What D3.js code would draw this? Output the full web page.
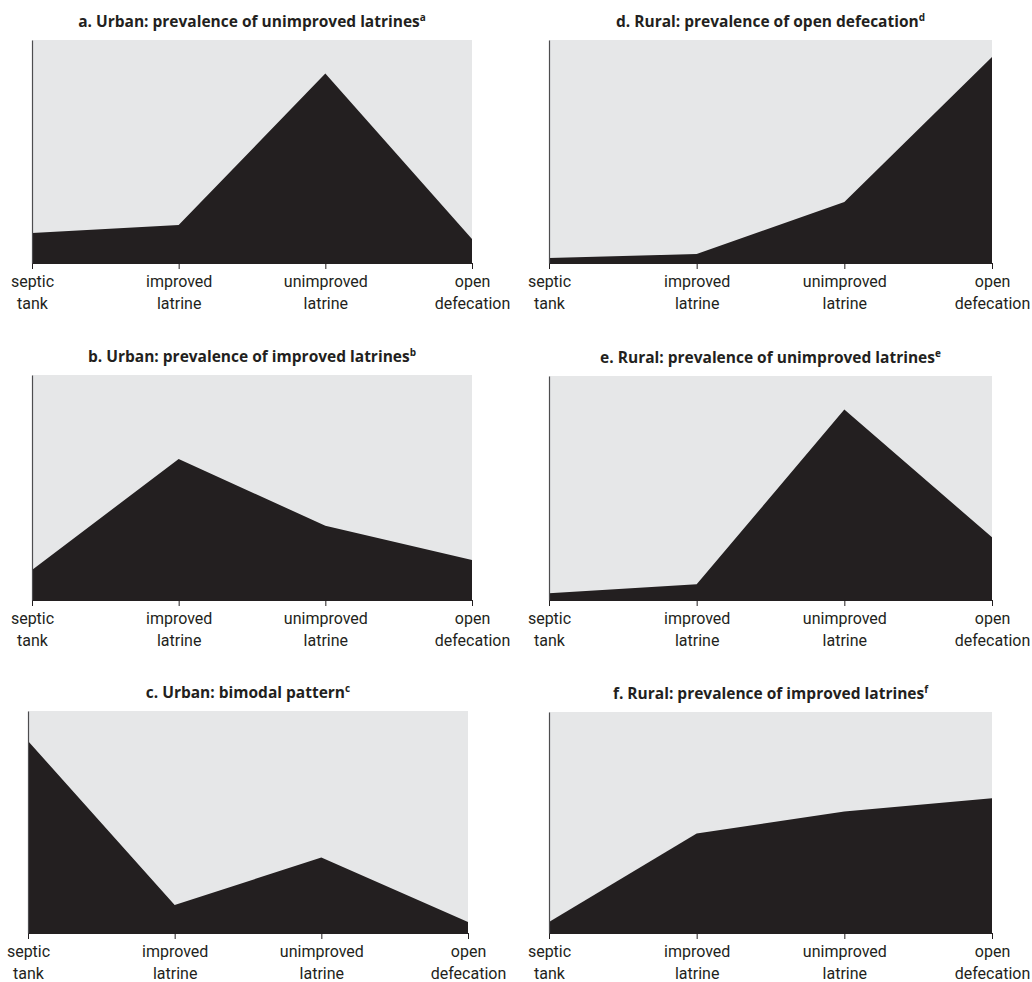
<!DOCTYPE html>
<html>
<head>
<meta charset="utf-8">
<script src="https://cdn.jsdelivr.net/npm/d3@7"></script>
<style>
  html, body { margin: 0; padding: 0; background: #ffffff; }
  svg { display: block; }
</style>
</head>
<body>
<svg id="chart" width="1032" height="982"></svg>
<script>
// ---- data ----
const categories = ["septic tank", "improved latrine", "unimproved latrine", "open defecation"];
const panelLetters = ["a", "b", "c", "d", "e", "f"];
const panelTitles = [
  "Urban: prevalence of unimproved latrines",
  "Urban: prevalence of improved latrines",
  "Urban: bimodal pattern",
  "Rural: prevalence of open defecation",
  "Rural: prevalence of unimproved latrines",
  "Rural: prevalence of improved latrines"
];
const footnoteMarks = ["a", "b", "c", "d", "e", "f"];
const urbanUnimproved = [13.5, 17, 85, 10.8];
const urbanImproved   = [13.3, 62.7, 33, 17.8];
const urbanBimodal    = [86.5, 12.6, 34, 5];
const ruralOpen       = [2.2, 4, 27.4, 92.4];
const ruralUnimproved = [3, 7, 85, 28];
const ruralImproved   = [5, 45, 55, 61];
const seriesList = [urbanUnimproved, urbanImproved, urbanBimodal, ruralOpen, ruralUnimproved, ruralImproved];

// ---- layout ----
const layout = [
  { left: 32,  right: 472, top: 40,  base: 263 },
  { left: 32,  right: 472, top: 375, base: 600 },
  { left: 28,  right: 468, top: 711, base: 933 },
  { left: 549, right: 992, top: 40,  base: 263 },
  { left: 549, right: 992, top: 376, base: 600 },
  { left: 549, right: 992, top: 712, base: 933 }
];

const svg = d3.select("#chart");
const FONT = "Roboto, 'Open Sans', sans-serif";
const TITLE_FONT = "'Open Sans', Roboto, sans-serif";

seriesList.forEach((vals, i) => {
  const L = layout[i];
  const g = svg.append("g");
  const x = d3.scalePoint().domain(categories).range([L.left, L.right]);
  const y = d3.scaleLinear().domain([0, 100]).range([L.base, L.top]);

  // background
  g.append("rect")
    .attr("x", L.left).attr("y", L.top)
    .attr("width", L.right - L.left).attr("height", L.base - L.top)
    .attr("fill", "#e6e7e8");

  // area
  const area = d3.area()
    .x((d, j) => x(categories[j]))
    .y0(y(0))
    .y1(d => y(d))
    .curve(d3.curveLinear);
  g.append("path").datum(vals).attr("d", area).attr("fill", "#231f20");

  // x axis
  const xAxis = d3.axisBottom(x).tickSize(6).tickSizeOuter(0).tickFormat("");
  const ax = g.append("g").attr("transform", `translate(0,${L.base})`).call(xAxis);
  ax.select(".domain").attr("stroke", "#231f20");
  ax.selectAll(".tick line").attr("stroke", "#231f20").attr("stroke-width", 1);
  ax.selectAll(".tick").each(function(d) {
    const parts = d.split(" ");
    const t = d3.select(this).append("text")
      .attr("text-anchor", "middle")
      .attr("fill", "#231f20")
      .style("font-family", FONT)
      .style("font-size", "16px");
    t.append("tspan").attr("x", 0).attr("y", 24).text(parts[0]);
    t.append("tspan").attr("x", 0).attr("y", 46).text(parts.slice(1).join(" "));
  });

  // left axis line
  const yAxis = d3.axisLeft(y).ticks(0).tickSize(0).tickSizeOuter(0);
  const ay = g.append("g").attr("transform", `translate(${L.left},0)`).call(yAxis);
  ay.select(".domain").attr("stroke", "#4d4d4f").attr("stroke-width", 1.2);

  // title
  const title = g.append("text")
    .attr("x", (L.left + L.right) / 2)
    .attr("y", L.top - 13)
    .attr("text-anchor", "middle")
    .attr("fill", "#231f20")
    .style("font-family", TITLE_FONT)
    .style("font-weight", "bold")
    .style("font-size", "15.5px");
  title.append("tspan").text(panelLetters[i] + ". " + panelTitles[i]);
  title.append("tspan").attr("dy", -6).style("font-size", "10px").text(footnoteMarks[i]);
});
</script>
</body>
</html>
